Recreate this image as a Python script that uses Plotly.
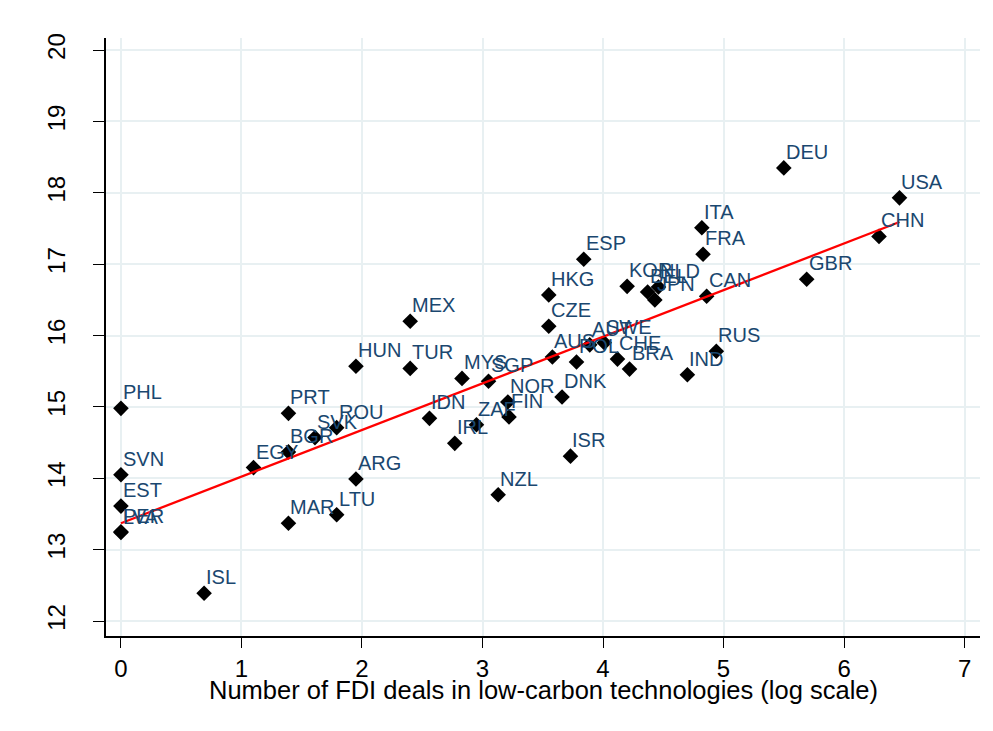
import numpy as np
import plotly.graph_objects as go

countries = ["PHL", "SVN", "EST", "LVA", "PER", "ISL", "EGY", "PRT", "BGR", "SVK",
             "ROU", "ARG", "MAR", "LTU", "HUN", "MEX", "TUR", "MYS", "SGP", "NOR",
             "FIN", "IDN", "ZAF", "IRL", "DNK", "ISR", "NZL", "HKG", "CZE", "AUS",
             "POL", "AUT", "SWE", "CHE", "BRA", "ESP", "KOR", "BEL", "NLD", "JPN",
             "CAN", "IND", "RUS", "ITA", "FRA", "DEU", "GBR", "CHN", "USA"]
log_deals = [0.0, 0.0, 0.0, 0.0, 0.0, 0.69, 1.10, 1.39, 1.39, 1.61,
             1.79, 1.95, 1.39, 1.79, 1.95, 2.40, 2.40, 2.83, 3.05, 3.21,
             3.22, 2.56, 2.95, 2.77, 3.66, 3.73, 3.13, 3.55, 3.55, 3.58,
             3.78, 3.89, 4.01, 4.12, 4.22, 3.84, 4.20, 4.37, 4.46, 4.43,
             4.86, 4.70, 4.94, 4.82, 4.83, 5.50, 5.69, 6.29, 6.46]
outcome = [14.98, 14.05, 13.61, 13.24, 13.25, 12.39, 14.15, 14.91, 14.37, 14.57,
           14.71, 13.99, 13.37, 13.49, 15.57, 16.20, 15.54, 15.40, 15.36, 15.07,
           14.86, 14.84, 14.75, 14.49, 15.14, 14.31, 13.77, 16.57, 16.13, 15.70,
           15.63, 15.87, 15.90, 15.67, 15.53, 17.07, 16.69, 16.61, 16.68, 16.50,
           16.55, 15.45, 15.78, 17.51, 17.14, 18.35, 16.79, 17.39, 17.93]

x_ticks = [0, 1, 2, 3, 4, 5, 6, 7]
y_ticks = [12, 13, 14, 15, 16, 17, 18, 19, 20]
x_title = "Number of FDI deals in low-carbon technologies (log scale)"

FONT = "Liberation Sans, Arial, sans-serif"
NAVY = "#1a476f"
GRID = "#e8f0f2"

xa = np.array(log_deals)
ya = np.array(outcome)
slope, intercept = np.polyfit(xa, ya, 1)
fit_x = np.array([xa.min(), xa.max()])
fit_y = intercept + slope * fit_x

fig = go.Figure()
fig.add_trace(go.Scatter(
    x=log_deals, y=outcome, mode="markers",
    marker=dict(symbol="diamond", size=12, color="black", line=dict(width=0)),
    showlegend=False, hoverinfo="text", text=countries,
))
fig.add_trace(go.Scatter(
    x=fit_x, y=fit_y, mode="lines",
    line=dict(color="#ff0000", width=2.3), showlegend=False, hoverinfo="skip",
))

for c, xv, yv in zip(countries, log_deals, outcome):
    fig.add_annotation(x=xv, y=yv, text=c, showarrow=False,
                       xanchor="left", yanchor="middle", xshift=0, yshift=16,
                       font=dict(family=FONT, size=20, color=NAVY))

# x-axis title placed below the tick labels
fig.add_annotation(x=0.5, y=0, xref="paper", yref="paper", text=x_title,
                   showarrow=False, xanchor="center", yanchor="middle", yshift=-54,
                   font=dict(family=FONT, size=25.5, color="black"))

# the page body adds an 8px offset, so margins are compensated
fig.update_layout(
    width=993, height=731,
    margin=dict(l=98, r=21, t=30, b=103),
    paper_bgcolor="white", plot_bgcolor="white",
    font=dict(family=FONT, color="black"),
)
fig.update_xaxes(
    range=[-0.124, 7.128], tickvals=x_ticks, ticktext=[str(t) for t in x_ticks],
    automargin=False,
    showgrid=True, gridcolor=GRID, gridwidth=2, zeroline=False,
    showline=True, linecolor="black", linewidth=1.5,
    ticks="outside", ticklen=10, tickwidth=1.3, tickcolor="black",
    tickfont=dict(family=FONT, size=24, color="black"),
    ticklabelstandoff=0,
)
fig.update_yaxes(
    range=[11.79, 20.17], tickvals=y_ticks, ticktext=[str(t) for t in y_ticks],
    automargin=False,
    showgrid=True, gridcolor=GRID, gridwidth=2, zeroline=False,
    showline=True, linecolor="black", linewidth=1.5,
    ticks="outside", ticklen=11, tickwidth=1.3, tickcolor="black",
    tickangle=-90, tickfont=dict(family=FONT, size=24, color="black"),
    ticklabelstandoff=19,
)

fig.write_html("out.html")
